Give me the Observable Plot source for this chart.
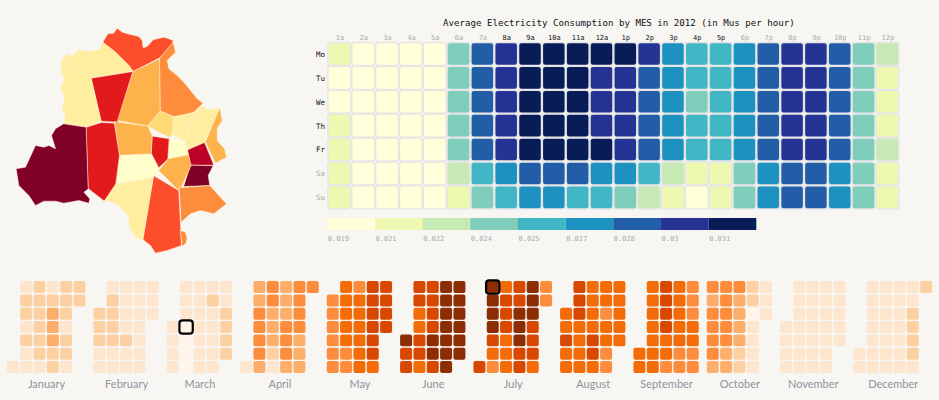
<!DOCTYPE html>
<html>
<head>
<meta charset="utf-8">
<script src="https://cdn.jsdelivr.net/npm/d3@7"></script>
<script src="https://cdn.jsdelivr.net/npm/@observablehq/plot@0.6"></script>
<style>
  html, body { margin: 0; padding: 0; background: #f7f6f3; }
  #stage { position: relative; width: 939px; height: 400px; overflow: hidden; }
  #stage svg { position: absolute; background: transparent; overflow: visible; }
</style>
</head>
<body>
<div id="stage"></div>
<script>
// ---------- Map of zones ----------
const mapPalette = ["#ffffcc","#ffeda0","#fed976","#feb24c","#fd8d3c","#fc4e2a","#e31a1c","#bd0026","#800026"];
const zoneLevels = [5,1,1,6,3,4,2,1,1,3,8,6,3,0,1,5,6,0,7,8,3,4,4];
const zoneOutlines = [
  [[307,95],[322,70],[340,68],[350,53],[365,65],[390,72],[415,78],[425,90],[428,112],[440,108],[458,88],[490,80],[500,83],[518,90],[515,100],[478,142],[398,183],[385,165],[345,125]],
  [[182,147],[205,130],[215,137],[235,117],[265,123],[295,118],[307,95],[345,125],[385,165],[398,183],[273,203]],
  [[182,147],[273,203],[303,332],[258,350],[190,340],[195,315],[183,290],[192,265],[180,230],[190,210],[182,180]],
  [[273,203],[398,183],[352,335],[303,332]],
  [[398,183],[478,145],[480,302],[442,347],[352,330]],
  [[478,142],[518,95],[525,125],[500,150],[505,175],[530,195],[550,215],[570,240],[590,265],[608,278],[580,305],[545,315],[520,319],[480,302]],
  [[480,302],[520,319],[516,372],[505,380],[442,347]],
  [[520,319],[580,306],[553,392],[516,374]],
  [[580,306],[608,285],[622,298],[658,292],[615,395],[562,418],[553,392]],
  [[658,292],[665,330],[650,355],[650,390],[672,415],[678,440],[645,458],[615,395]],
  [[190,340],[258,350],[264,535],[250,545],[268,565],[265,578],[235,570],[190,578],[165,572],[130,572],[105,585],[85,555],[55,525],[47,475],[75,470],[105,405],[130,410],[145,405],[165,415],[153,375],[165,355]],
  [[258,350],[303,336],[342,338],[358,435],[347,520],[312,572],[264,535]],
  [[342,333],[442,347],[456,377],[453,432],[358,435]],
  [[358,435],[453,430],[475,472],[470,498],[347,520]],
  [[347,520],[460,500],[428,688],[410,685],[388,655],[385,620],[360,590],[340,575],[312,572]],
  [[460,496],[535,540],[543,705],[500,720],[465,728],[450,705],[428,688]],
  [[456,377],[507,385],[503,445],[475,472],[453,430]],
  [[507,385],[553,392],[564,433],[503,445]],
  [[562,418],[612,396],[640,464],[570,464]],
  [[570,464],[638,466],[623,495],[628,525],[550,528]],
  [[475,480],[503,445],[564,433],[572,465],[537,542]],
  [[537,532],[628,525],[655,555],[678,580],[640,610],[600,600],[570,610],[542,635]],
  [[540,660],[555,665],[560,685],[555,700],[545,707]]
];

// ---------- Hour by day heatmap ----------
const heatPalette = ["#ffffd9","#edf8b1","#c7e9b4","#7fcdbb","#41b6c4","#1d91c0","#225ea8","#253494","#081d58"];
const heatLabels = ["0.019","0.021","0.022","0.024","0.025","0.027","0.028","0.03","0.031"];
const hours = ["1a","2a","3a","4a","5a","6a","7a","8a","9a","10a","11a","12a","1p","2p","3p","4p","5p","6p","7p","8p","9p","10p","11p","12p"];
const workHours = ["8a","9a","10a","11a","12a","1p","2p","3p","4p","5p"];
const days = ["Mo","Tu","We","Th","Fr","Sa","Su"];
const workDays = ["Mo","Tu","We","Th","Fr"];
const chartTitle = "Average Electricity Consumption by MES in 2012 (in Mus per hour)";
const heatLevels = {
  Mo: [1,0,0,0,0,3,6,7,8,8,8,8,8,7,5,4,4,5,6,7,7,6,3,2],
  Tu: [0,0,0,0,0,3,6,7,8,8,8,7,7,6,5,4,4,5,6,7,7,6,3,1],
  We: [0,0,0,0,0,3,6,7,8,8,8,7,7,6,5,3,4,5,6,7,7,6,3,1],
  Th: [1,0,0,0,0,3,6,7,8,8,8,7,7,6,5,4,4,5,6,7,7,6,3,1],
  Fr: [1,0,0,0,0,3,6,7,8,8,8,8,7,6,5,4,4,5,6,7,7,6,3,2],
  Sa: [1,0,0,0,0,2,4,5,6,6,6,5,5,4,2,1,1,3,5,6,6,5,3,1],
  Su: [1,0,0,0,0,1,3,4,5,5,4,4,3,2,1,0,1,3,5,6,6,5,3,1]
};

// ---------- Calendar of months ----------
const calPalette = ["#fff5eb","#fee6ce","#fdd0a2","#fdae6b","#fd8d3c","#f46c08","#d94801","#8c2d04"];
const months = ["January","February","March","April","May","June","July","August","September","October","November","December"];
const monthLevels = [
  [".12122",".22222",".2232.",".1231.",".2232.",".1222.","11121."],
  [".1111",".2111","22111","2211.","2221.","1111.","1111."],
  [".1111",".1121",".1112","10112","10112","10112","1011."],
  [".34344",".3434.",".4334.",".4344.",".4343.",".4243.","13133."],
  [".5466","45566","45566","45566","4556.","4456.","4455."],
  [".6677",".6677",".5677",".5677","76777","66777","6567."],
  [".75674",".76674",".7677.",".7676.",".6576.",".5566.","64565."],
  [".6555",".6555","56545","55555","65655","5564.","5554."],
  [".5654",".5654",".5654",".5655",".5555","55544","55444"],
  ["44421","34321","44301","4431.","4431.","4321.","3321."],
  [".1111",".1111",".1111","11111","11111","1111.","1111."],
  [".11112",".1111.",".1112.",".1112.",".1112.","11112.","11111."]
];
const highlighted = [["March",3,1],["July",0,1]];

// ---------- Derived tables ----------
const zones = zoneOutlines.map((ring, i) => ({
  type: "Feature",
  properties: {level: zoneLevels[i]},
  geometry: {type: "Polygon", coordinates: [[...ring, ring[0]]]}
}));
const heatCells = days.flatMap(day => hours.map((hour, i) => ({day, hour, level: heatLevels[day][i]})));
const legendCells = heatLabels.map((label, level) => ({label, level}));

let start = 0;
const monthStart = {};
const calCells = [];
const monthLabels = [];
months.forEach((month, m) => {
  const rows = monthLevels[m];
  const cols = rows[0].length;
  monthStart[month] = start;
  rows.forEach((row, r) => [...row].forEach((ch, c) => {
    if (ch !== ".") calCells.push({month, col: start + c, row: r, level: +ch});
  }));
  monthLabels.push({month, center: start + cols / 2});
  start += cols + 0.5;
});
const boxes = highlighted.map(([month, row, col]) => ({col: monthStart[month] + col, row}));

// ---------- Plots ----------
const mono = "'DejaVu Sans Mono', monospace";
const stage = document.getElementById("stage");
function place(svg, left, top) {
  svg.style.left = left + "px";
  svg.style.top = top + "px";
  stage.appendChild(svg);
}

const mapPlot = Plot.plot({
  width: 300, height: 260, margin: 0,
  projection: d3.geoIdentity().scale(1 / 3).translate([0, 10]),
  color: {type: "ordinal", domain: d3.range(9), range: mapPalette},
  marks: [
    Plot.geo(zones, {
      fill: d => d.properties.level,
      stroke: "#fff3dc", strokeWidth: 0.6, strokeOpacity: 0.85, strokeLinejoin: "round"
    })
  ]
});
place(mapPlot, 0, 0);

const greyText = "#aaaaaa";
const heatPlot = Plot.plot({
  width: 639, height: 250,
  marginLeft: 27.5, marginRight: 39.7, marginTop: 42, marginBottom: 40.7,
  style: {fontFamily: mono, background: "transparent"},
  x: {domain: hours, padding: 0, round: false, label: null},
  y: {domain: days, padding: 0, round: false, label: null},
  color: {type: "ordinal", domain: d3.range(9), range: heatPalette},
  marks: [
    Plot.cell(heatCells, {
      x: "hour", y: "day", fill: "level", inset: 0.4, rx: 3,
      stroke: "#e6e6e6", strokeWidth: 1.5
    }),
    Plot.axisX(hours.filter(h => !workHours.includes(h)), {anchor: "top", tickSize: 0, tickPadding: 3, fontSize: 7, fill: greyText, label: null}),
    Plot.axisX(workHours, {anchor: "top", tickSize: 0, tickPadding: 3, fontSize: 7, fill: "#111", label: null}),
    Plot.axisY(days.filter(d => !workDays.includes(d)), {anchor: "left", tickSize: 0, tickPadding: 3, fontSize: 7.5, fill: greyText, label: null}),
    Plot.axisY(workDays, {anchor: "left", tickSize: 0, tickPadding: 3, fontSize: 7.5, fill: "#111", label: null}),
    Plot.text([chartTitle], {frameAnchor: "top", dx: 5, dy: -19.3, lineAnchor: "middle", fontSize: 9.15, fill: "#111"})
  ]
});
place(heatPlot, 300, 0);

const legendPlot = Plot.plot({
  width: 500, height: 32,
  marginLeft: 27.3, marginRight: 43.7, marginTop: 0, marginBottom: 20,
  style: {fontFamily: mono, background: "transparent"},
  x: {domain: heatLabels, padding: 0, round: false, label: null},
  color: {type: "ordinal", domain: d3.range(9), range: heatPalette},
  marks: [
    Plot.cell(legendCells, {x: "label", fill: "level"}),
    Plot.axisX({anchor: "bottom", tickSize: 0, tickPadding: 6, fontSize: 7, fill: greyText, textAnchor: "start", dx: -23.8, label: null})
  ]
});
place(legendPlot, 300, 218);

const calPlot = Plot.plot({
  width: 939, height: 130, margin: 0,
  style: {fontFamily: "Lato, sans-serif", background: "transparent"},
  x: {domain: [0, 70], range: [6.1, 939.4], axis: null},
  y: {domain: [0, 7], range: [10.4, 103.7], axis: null},
  color: {type: "ordinal", domain: d3.range(8), range: calPalette},
  marks: [
    Plot.rect(calCells, {
      x1: "col", x2: d => d.col + 1, y1: "row", y2: d => d.row + 1,
      fill: "level", inset: 0.67, rx: 2
    }),
    Plot.rect(boxes, {
      x1: "col", x2: d => d.col + 1, y1: "row", y2: d => d.row + 1,
      fill: "none", stroke: "#000", strokeWidth: 2.2, inset: 0, rx: 3
    }),
    Plot.text(monthLabels, {
      x: "center", text: "month", frameAnchor: "bottom", dy: -15.7, lineAnchor: "middle",
      fontSize: 11, fill: "#8f939b"
    })
  ]
});
place(calPlot, 0, 270);
</script>
</body>
</html>
